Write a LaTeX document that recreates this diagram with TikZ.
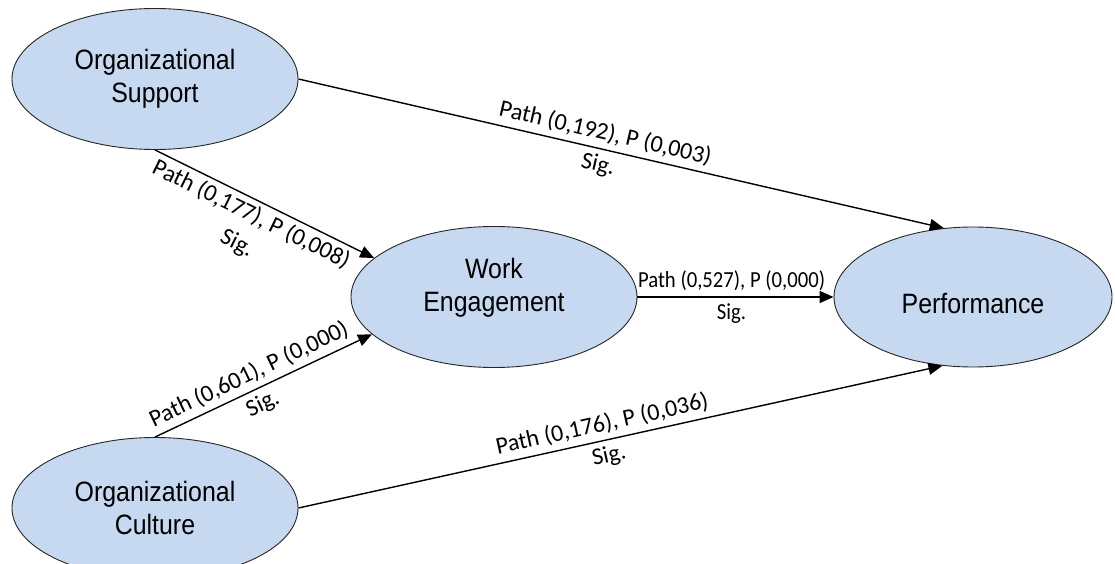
\documentclass[tikz,border=0pt]{standalone}
\usepackage{fontspec}
\setmainfont{Liberation Sans}
\newfontfamily\nodefont[FakeStretch=0.89]{Liberation Sans}
\newfontfamily\labfont{Carlito}
\newfontfamily\labfontn[FakeStretch=0.9]{Carlito}
\usetikzlibrary{shapes.geometric,arrows.meta}
\definecolor{ellfill}{RGB}{198,217,240}
\begin{document}
\begin{tikzpicture}[x=1pt,y=-1pt,
  latent/.style={ellipse, draw=black!85, line width=0.9pt, fill=ellfill, inner sep=0pt,
    minimum width=286pt, minimum height=141pt, align=center,
    font=\nodefont\fontsize{28}{33}\selectfont},
  link/.style={line width=1.4pt, -{Triangle[length=14pt,width=12pt]}},
  lab/.style={sloped, align=center, inner sep=0pt, font=\labfont\fontsize{24}{32}\selectfont},
  labh/.style={lab, font=\labfontn\fontsize{23}{32}\selectfont}]
\useasboundingbox (0,0) rectangle (1115,564);
\node[latent] (os) at (155,79) {Organizational\\Support};
\node[latent] (oc) at (155,508) {Organizational\\Culture};
\node[latent] (we) at (494,297) {Work\\Engagement\\[-8pt]};
\node[latent, minimum width=278pt, minimum height=140pt, text height=32pt, text depth=0pt] (pf) at (973,297) {Performance};
\draw[link] (os.east) -- node[lab, pos=0.47] {Path (0,192), P (0,003)\\Sig.} (pf.113);
\draw[link] (os.south) -- node[lab, pos=0.47, below=4pt] {Path (0,177), P (0,008)\\Sig.} (we.162);
\draw[link] (oc.north) -- node[lab, pos=0.465] {Path (0,601), P (0,000)\\Sig.} (we.197);
\draw[link] (oc.east) -- node[lab, pos=0.477] {Path (0,176), P (0,036)\\Sig.} (pf.246);
\draw[link] (we.east) -- node[labh, pos=0.48] {Path (0,527), P (0,000)\\Sig.} (pf.west);
\end{tikzpicture}
\end{document}
